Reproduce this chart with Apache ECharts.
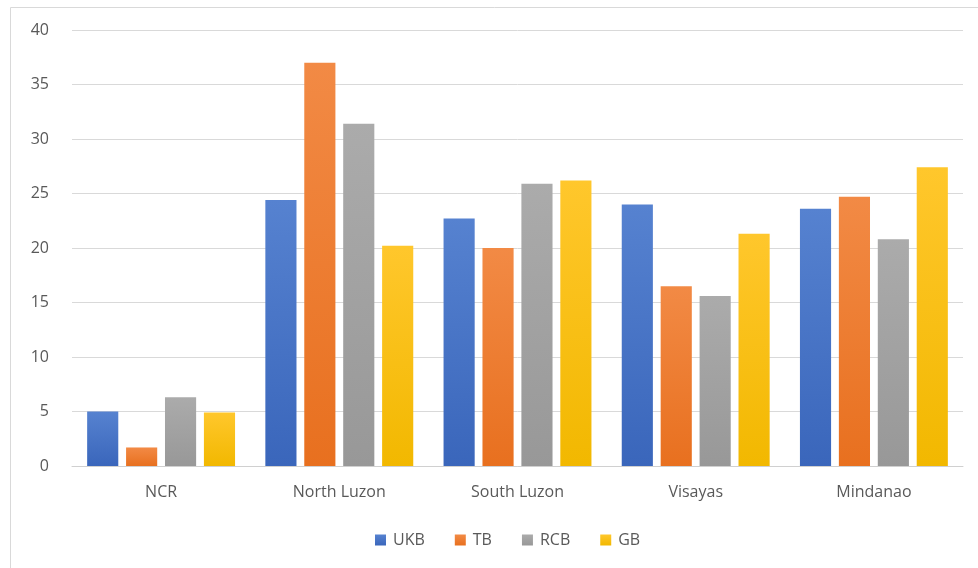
<!DOCTYPE html>
<html>
<head>
<meta charset="utf-8">
<script src="https://cdn.jsdelivr.net/npm/echarts@6/dist/echarts.min.js"></script>
<style>html,body{margin:0;padding:0;background:#fff;}#c{width:978px;height:568px;}</style>
</head>
<body>
<div id="c"></div>
<script>
const categories = ['NCR', 'North Luzon', 'South Luzon', 'Visayas', 'Mindanao'];
const seriesNames = ['UKB', 'TB', 'RCB', 'GB'];
const ukb = [5.0, 24.4, 22.7, 24.0, 23.6];
const tb = [1.7, 37.0, 20.0, 16.5, 24.7];
const rcb = [6.3, 31.4, 25.9, 15.6, 20.8];
const gb = [4.9, 20.2, 26.2, 21.3, 27.4];
const yTicks = [0, 5, 10, 15, 20, 25, 30, 35, 40];
const colors = [['#5682d0', '#3a66bb'], ['#f28a45', '#e8701f'], ['#ababab', '#989898'], ['#ffc72c', '#f2b800']];
const values = [ukb, tb, rcb, gb];

const chart = echarts.init(document.getElementById('c'));
const textColor = '#595959';
const fontSize = 16;
chart.setOption({
  animation: false,
  textStyle: { fontFamily: 'Open Sans' },
  graphic: [{
    type: 'rect', left: 8, top: 5, silent: true,
    shape: { width: 980, height: 561 },
    style: { fill: 'none', stroke: '#d9d9d9', lineWidth: 1 }
  }],
  grid: { left: 72, right: 15, top: 30, bottom: 102 },
  legend: {
    top: 527, left: 370,
    itemWidth: 11, itemHeight: 11, itemGap: 30,
    icon: 'rect',
    textStyle: { color: textColor, fontSize: fontSize, fontFamily: 'Open Sans', padding: [0, 0, 0, 2] },
    data: seriesNames
  },
  xAxis: {
    type: 'category', data: categories,
    axisLine: { lineStyle: { color: '#d0d0d0' } },
    axisTick: { show: false },
    axisLabel: { color: textColor, fontSize: fontSize, margin: 18 }
  },
  yAxis: {
    type: 'value', min: yTicks[0], max: yTicks[yTicks.length - 1], interval: 5,
    axisLine: { show: false }, axisTick: { show: false },
    axisLabel: { color: textColor, fontSize: fontSize, margin: 23 },
    splitLine: { lineStyle: { color: '#d9d9d9' } }
  },
  series: seriesNames.map((n, i) => ({
    name: n, type: 'bar', data: values[i],
    barGap: '25%', barCategoryGap: '17%',
    itemStyle: {
      color: new echarts.graphic.LinearGradient(0, 0, 0, 1, [
        { offset: 0, color: colors[i][0] }, { offset: 1, color: colors[i][1] }
      ])
    }
  }))
});
</script>
</body>
</html>
